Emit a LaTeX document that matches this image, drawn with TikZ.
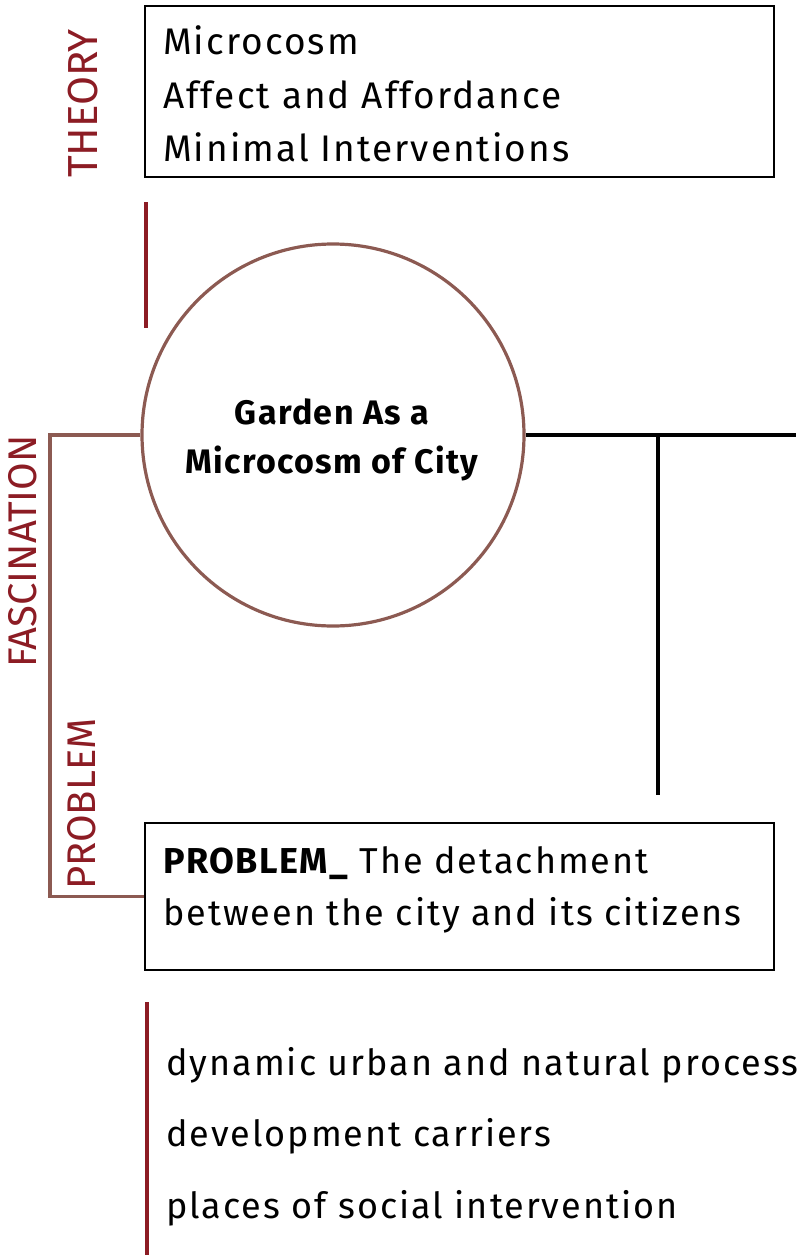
\documentclass[tikz,border=0pt]{standalone}
\usepackage{fontspec}
\setmainfont{Fira Sans}
\newfontfamily\widefont[LetterSpace=5.5]{Fira Sans}
\newfontfamily\widebold[LetterSpace=4]{Fira Sans Bold}
\definecolor{accred}{RGB}{140,28,36}
\definecolor{brownln}{RGB}{140,90,82}
\begin{document}
\begin{tikzpicture}[x=1pt,y=-1pt,
  boxst/.style={draw=black,line width=1.6pt,inner sep=0pt},
  bodytxt/.style={inner sep=0pt,anchor=base west,font=\widefont\fontsize{37}{40}\selectfont},
  bodysm/.style={inner sep=0pt,anchor=base west,font=\widefont\fontsize{36}{40}\selectfont},
  boldtxt/.style={inner sep=0pt,anchor=base,font=\widebold\fontsize{34}{40}\selectfont},
  sidelbl/.style={inner sep=0pt,anchor=base west,rotate=90,text=accred},
  redln/.style={draw=accred,line width=3.2pt},
  brownst/.style={draw=brownln,line width=3.2pt},
  blackln/.style={draw=black,line width=3.8pt}]
\useasboundingbox (0,0) rectangle (796,1255);
\clip (0,0) rectangle (796,1255);
% theory box
\node[boxst,minimum width=629pt,minimum height=171pt,anchor=north west] (tbox) at (144,5) {};
\node[bodytxt] (t1) at (163,55) {Microcosm};
\node[bodytxt] (t2) at (163,108) {Affect and Affordance};
\node[bodytxt] (t3) at (163,161) {Minimal Interventions};
\node[sidelbl,font=\fontsize{42}{44}\selectfont] (theory) at (97,178) {THEORY};
\coordinate (rl1a) at (146,202);
\coordinate (rl1b) at (146,328);
\draw[redln] (rl1a) -- (rl1b);
% circle
\node[circle,brownst,minimum size=382pt,inner sep=0pt] (circ) at (333,435) {};
\node[boldtxt] (c1) at (332,424) {Garden As a};
\node[boldtxt] (c2) at (332,473) {Microcosm of City};
% problem box
\node[boxst,minimum width=629pt,minimum height=147pt,anchor=north west] (pbox) at (144,822) {};
\node[bodysm] (p1) at (163,873) {{\widebold PROBLEM\_} The detachment};
\node[bodysm] (p2) at (163,925) {between the city and its citizens};
% bracket
\coordinate (bk1) at (50,435);
\draw[brownst] (circ.west) -- (bk1) |- (pbox.west);
\node[sidelbl,font=\fontsize{40}{44}\selectfont] (fasc) at (36,668) {FASCINATION};
\node[sidelbl,font=\fontsize{40}{44}\selectfont] (prob) at (95,890) {PROBLEM};
% black T
\coordinate (bre) at (796,435);
\coordinate (tj) at (658,435);
\coordinate (tb) at (658,795);
\draw[blackln] (circ.east) -- (bre);
\draw[blackln] (tj) -- (tb);
% bottom list
\coordinate (rl2a) at (147,1002);
\coordinate (rl2b) at (147,1255);
\draw[redln] (rl2a) -- (rl2b);
\node[bodysm] (b1) at (166,1075) {dynamic urban and natural processes};
\node[bodysm] (b2) at (166,1146) {development carriers};
\node[bodysm] (b3) at (166,1218) {places of social intervention};
\end{tikzpicture}
\end{document}
